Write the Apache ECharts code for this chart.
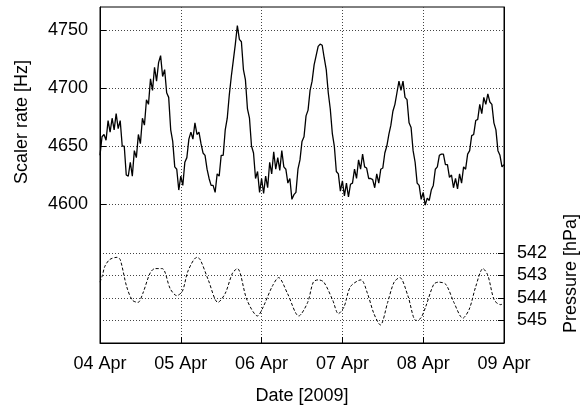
<!DOCTYPE html>
<html>
<head>
<meta charset="utf-8">
<script src="https://cdn.jsdelivr.net/npm/echarts@6/dist/echarts.min.js"></script>
<style>
  html, body { margin: 0; padding: 0; background: #fff; }
  #chart { width: 586px; height: 410px; }
</style>
</head>
<body>
<div id="chart"></div>
<script>
// scaler rate, sampled every 0.025 day from 04 Apr 00:00
const scalerStep = 0.025
const scalerRate = [
  4642, 4658, 4660, 4655, 4672, 4662, 4674, 4664, 4678, 4665,
  4672, 4650, 4650, 4625, 4624, 4636, 4624, 4646, 4640, 4660,
  4652, 4674, 4668, 4690, 4686, 4708, 4698, 4718, 4706, 4722,
  4728, 4710, 4716, 4696, 4692, 4664, 4654, 4632, 4630, 4612,
  4624, 4616, 4636, 4640, 4656, 4662, 4656, 4670, 4660, 4662,
  4652, 4644, 4642, 4630, 4622, 4616, 4616, 4610, 4626, 4624,
  4642, 4642, 4664, 4674, 4694, 4710, 4724, 4738, 4754, 4742,
  4740, 4716, 4707, 4682, 4674, 4650, 4644, 4622, 4628, 4610,
  4622, 4609, 4624, 4614, 4636, 4626, 4645, 4630, 4640, 4629,
  4646, 4632, 4630, 4618, 4622, 4604, 4608, 4610, 4630, 4638,
  4654, 4658, 4676, 4681, 4698, 4706, 4720, 4728, 4736, 4738,
  4737, 4726, 4716, 4696, 4682, 4661, 4650, 4628, 4626, 4611,
  4620, 4607, 4618, 4606, 4617, 4618, 4630, 4622, 4638, 4630,
  4643, 4632, 4631, 4622, 4622, 4621, 4614, 4626, 4618, 4630,
  4631, 4644, 4650, 4660, 4668, 4680, 4686, 4696, 4706, 4698,
  4706, 4692, 4690, 4670, 4666, 4646, 4636, 4618, 4616, 4604,
  4610, 4599, 4605, 4603, 4612, 4616, 4630, 4632, 4642, 4643,
  4643, 4634, 4634, 4623, 4625, 4614, 4622, 4613, 4626, 4618,
  4632, 4630, 4643, 4646, 4659, 4660, 4672, 4673, 4686, 4678,
  4692, 4686, 4695, 4688, 4686, 4670, 4664, 4646, 4642, 4632,
  4634
]

// pressure, days since 04 Apr 00:00
const pressureDay = [
  0, 0.03, 0.06, 0.12, 0.21, 0.25, 0.33, 0.40, 0.47, 0.53,
  0.62, 0.68, 0.77, 0.87, 0.95, 1.02, 1.09, 1.20, 1.24, 1.34,
  1.46, 1.55, 1.64, 1.70, 1.82, 1.95, 2.02, 2.13, 2.21, 2.32,
  2.46, 2.57, 2.64, 2.70, 2.77, 2.88, 2.95, 3.02, 3.10, 3.23,
  3.31, 3.39, 3.47, 3.56, 3.64, 3.71, 3.81, 3.91, 3.97, 4.03,
  4.13, 4.19, 4.28, 4.38, 4.49, 4.57, 4.65, 4.74, 4.80, 4.88,
  4.96, 5.00
]
const pressureHPa = [
  543.3, 543.0, 542.6, 542.3, 542.2, 542.3, 543.5, 544.1, 544.2, 543.8,
  542.9, 542.7, 542.7, 543.6, 543.9, 543.7, 542.8, 542.2, 542.3, 543.2,
  544.2, 543.8, 542.9, 542.7, 544.1, 544.8, 544.4, 543.5, 543.1, 543.8,
  544.8, 544.2, 543.3, 543.2, 543.3, 544.1, 544.7, 544.4, 543.5, 543.2,
  543.8, 544.7, 545.2, 544.2, 543.3, 543.1, 543.9, 545.0, 544.9, 544.4,
  543.4, 543.3, 543.4, 544.2, 544.9, 544.5, 543.5, 542.7, 543.0, 544.1,
  544.3, 544.2
]

const dateLabels = ['04 Apr', '05 Apr', '06 Apr', '07 Apr', '08 Apr', '09 Apr']
const rateTicks = [4600, 4650, 4700, 4750]
const pressureTicks = [542, 543, 544, 545]

const font = '"Liberation Sans", Arial, sans-serif'
const gridDots = { color: '#444', width: 1, type: [1, 2] }

const chart = echarts.init(document.getElementById('chart'))

chart.setOption({
  backgroundColor: '#fff',
  animation: false,
  grid: {
    left: 100, right: 82, top: 7, bottom: 66,
    show: true, borderColor: '#000', borderWidth: 1, backgroundColor: 'transparent'
  },
  xAxis: {
    type: 'value',
    min: 0, max: 5, interval: 1,
    name: 'Date [2009]',
    nameLocation: 'middle',
    nameGap: 44,
    nameTextStyle: { color: '#000', fontSize: 18, fontFamily: font },
    axisLine: { lineStyle: { color: '#000', width: 1 } },
    axisTick: { inside: true, length: 6, lineStyle: { color: '#000' } },
    axisLabel: {
      color: '#000', fontSize: 18, fontFamily: font, margin: 12,
      formatter: (v) => dateLabels[Math.round(v)]
    },
    splitLine: { show: true, lineStyle: gridDots }
  },
  yAxis: [
    {
      type: 'value',
      position: 'left',
      min: 4480, max: 4770,
      axisLine: { show: true, lineStyle: { color: '#000', width: 1 } },
      axisTick: { show: true, inside: true, length: 6, customValues: rateTicks, lineStyle: { color: '#000' } },
      axisLabel: {
        color: '#000', fontSize: 18, fontFamily: font, margin: 12,
        customValues: rateTicks, formatter: (v) => String(v)
      },
      splitLine: { show: true, lineStyle: gridDots }
    },
    {
      type: 'value',
      position: 'right',
      inverse: true,
      min: 531.1, max: 546.0,
      axisLine: { show: true, lineStyle: { color: '#000', width: 1 } },
      axisTick: { show: true, inside: true, length: 6, customValues: pressureTicks, lineStyle: { color: '#000' } },
      axisLabel: {
        color: '#000', fontSize: 18, fontFamily: font, margin: 13,
        customValues: pressureTicks, formatter: (v) => String(v)
      },
      splitLine: { show: true, lineStyle: gridDots }
    }
  ],
  graphic: [
    {
      type: 'text', left: 13, top: 60, rotation: Math.PI / 2,
      style: { text: 'Scaler rate [Hz]', fill: '#000', font: '18px ' + font }
    },
    {
      type: 'text', left: 562, top: 214, rotation: Math.PI / 2,
      style: { text: 'Pressure [hPa]', fill: '#000', font: '18px ' + font }
    }
  ],
  series: [
    {
      name: 'Scaler rate',
      type: 'line',
      yAxisIndex: 0,
      data: scalerRate.map((v, i) => [i * scalerStep, v]),
      symbol: 'none',
      lineStyle: { color: '#000', width: 1.3 }
    },
    {
      name: 'Pressure',
      type: 'line',
      yAxisIndex: 1,
      smooth: 0.3,
      data: pressureDay.map((d, i) => [d, pressureHPa[i]]),
      symbol: 'none',
      lineStyle: { color: '#000', width: 1, type: [3, 2] }
    }
  ]
})
</script>
</body>
</html>
